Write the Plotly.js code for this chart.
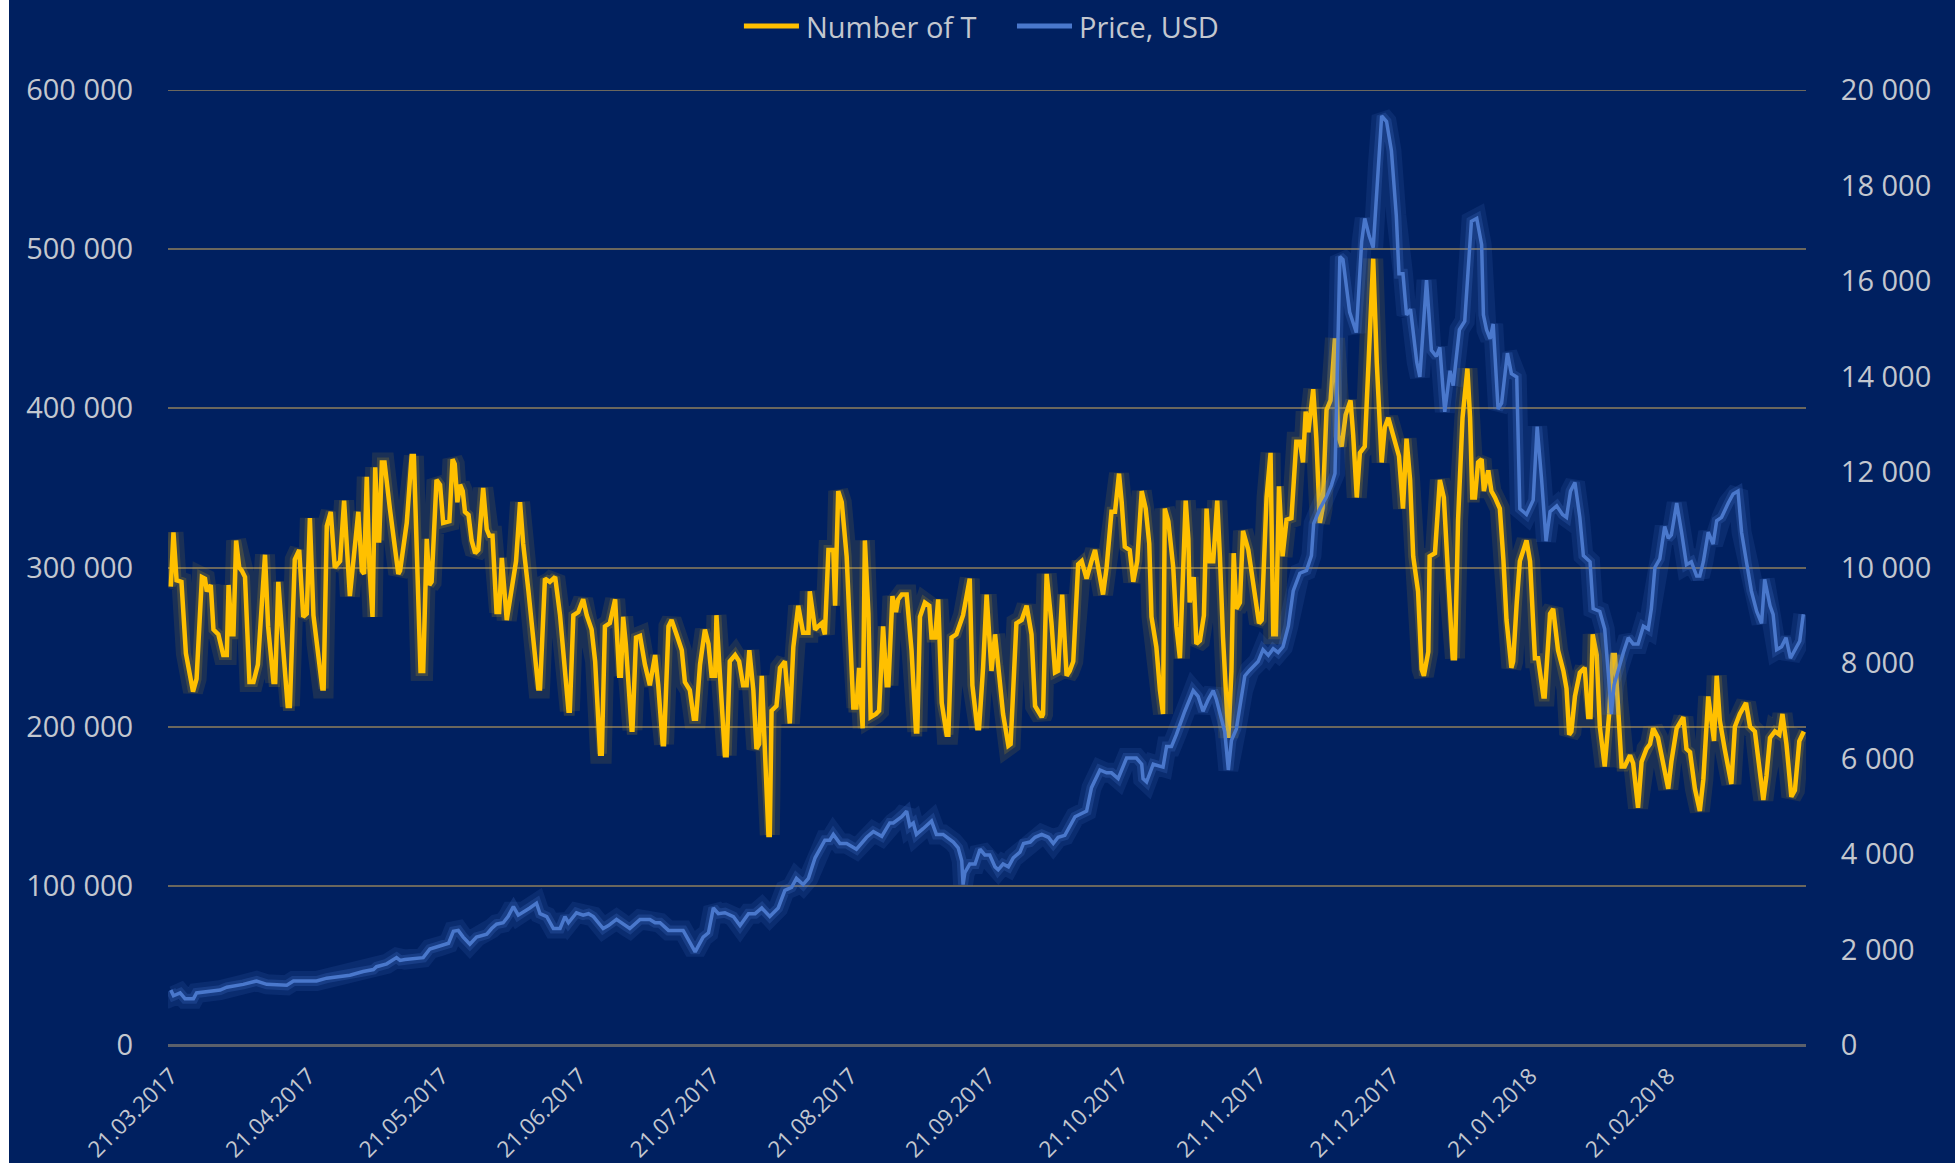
<!DOCTYPE html>
<html>
<head>
<meta charset="utf-8">
<script src="https://cdn.plot.ly/plotly-3.0.1.min.js"></script>
<style>
html,body{margin:0;padding:0;background:#ffffff;}
#chart{position:absolute;left:9px;top:0;width:1946px;height:1163px;}
</style>
</head>
<body>
<div id="chart"></div>
<script>
// ---- DATA ----
const startDate = '2017-03-21';
const seriesNames = ['Number of T', 'Price, USD'];
const monthTicks = ['2017-03-21','2017-04-21','2017-05-21','2017-06-21','2017-07-21','2017-08-21',
  '2017-09-21','2017-10-21','2017-11-21','2017-12-21','2018-01-21','2018-02-21'];

// day offsets from startDate of the visible turning points of the "Number of T" line
const txDays = [0,0.6,1.3,2.4,3.4,5.0,5.8,7.0,7.7,8.1,9.0,9.6,10.7,11.8,12.6,13.0,13.7,14.1,14.7,15.4,16.0,16.7,17.7,18.6,19.6,21.2,21.9,23.1,23.5,24.2,25.2,26.3,26.8,27.9,28.9,29.8,30.6,31.3,32.1,32.8,34.1,34.4,35.1,36.0,36.9,38.1,39.0,40.3,42.2,43.0,43.5,44.1,44.7,45.4,46.0,46.7,46.9,47.5,48.1,49.3,51.2,51.6,53.1,54.2,54.7,56.2,56.8,57.6,58.2,58.7,59.8,60.6,61.3,62.7,63.4,63.9,64.5,65.1,65.7,66.2,67.0,67.7,68.5,69.2,70.3,71.1,71.7,72.4,73.3,73.9,74.5,75.6,76.7,77.7,78.6,79.3,80.5,81.6,82.7,83.1,84.2,85.3,86.5,87.6,88.3,89.5,89.8,90.6,91.7,92.8,93.6,94.7,95.5,96.6,97.0,97.7,98.8,100.0,100.9,101.3,101.8,102.4,103.7,103.9,104.7,105.6,106.7,107.8,109.0,109.7,110.7,111.0,112.0,112.7,113.8,115.0,115.7,116.8,117.7,118.2,119.1,120.2,121.0,121.7,122.5,122.8,123.4,124.7,125.1,125.8,127.0,127.9,128.8,129.6,130.2,131.1,131.8,132.4,133.0,133.5,134.5,134.8,135.2,136.3,137.1,138.2,139.3,140.1,141.2,142.3,143.5,143.8,145.0,145.7,146.5,147.2,148.0,149.1,149.5,150.2,151.0,152.1,152.8,153.6,154.3,154.9,155.7,156.2,157.0,157.5,158.7,159.4,160.3,161.1,161.5,162.4,163.2,163.7,164.5,165.6,166.7,167.7,168.0,168.6,169.7,170.7,171.2,172.0,172.7,173.5,174.6,175.0,175.7,176.8,178.3,179.1,179.8,180.4,181.5,181.9,182.8,183.6,184.7,185.5,186.2,187.3,188.5,189.0,190.3,191.5,192.6,193.7,194.5,196.0,196.3,197.1,198.2,199.0,199.7,200.6,201.6,202.3,203.1,204.2,205.0,206.1,207.2,208.0,209.1,209.8,210.6,211.7,212.5,213.4,214.0,214.7,215.8,216.6,217.5,218.5,219.4,220.2,220.7,221.8,222.6,223.3,223.7,224.5,225.6,226.3,227.1,227.8,228.4,229.0,229.3,230.2,230.8,231.6,232.5,233.1,233.8,234.6,235.5,236.1,236.8,238.0,238.7,239.2,239.8,240.6,241.3,242.5,244.0,244.9,245.5,246.6,247.5,248.1,248.7,249.4,250.2,251.1,252.2,253.3,254.1,254.8,255.4,256.0,257.1,257.8,258.6,259.2,260.1,261.0,262.0,262.7,263.5,264.4,265.5,266.1,266.9,267.6,268.7,269.7,270.6,271.4,272.5,273.2,274.0,275.1,276.4,277.3,278.1,278.9,279.6,280.7,281.5,282.0,283.0,283.3,284.5,285.6,286.5,287.5,288.5,289.0,289.7,290.7,291.8,292.4,292.9,293.5,294.2,295.0,295.5,296.5,297.2,298.0,299.1,299.9,300.6,301.7,302.1,302.9,303.6,305.1,305.9,307.0,307.7,308.9,309.2,310.4,311.1,312.2,313.4,314.1,314.7,315.2,316.0,317.1,318.2,319.0,319.5,320.0,320.9,321.6,322.7,323.7,324.5,325.0,325.7,326.5,327.2,328.4,329.1,330.2,331.0,332.1,332.9,333.6,334.7,335.9,337.0,337.7,338.9,340.4,341.1,341.9,343.0,344.1,344.9,346.0,346.7,347.3,347.9,348.6,349.7,350.5,351.2,352.0,353.1,354.5,355.4,356.5,357.6,358.4,359.1,359.9,361.0,362.0,362.7,363.6,364.7,365.5,366.5,367.5];
const txCount = [288000,322000,292000,291000,246000,222000,230000,294000,293000,285000,289000,261000,258000,245000,245000,289000,258000,258000,317000,300000,298000,294000,228000,228000,239000,308000,263000,228000,228000,291000,252000,213000,213000,305000,311000,269000,271000,331000,270000,252000,224000,224000,326000,335000,300000,304000,342000,282000,335000,298000,296000,357000,300000,269000,363000,317000,317000,366000,366000,337000,296000,298000,328000,370000,370000,235000,235000,318000,289000,291000,355000,352000,328000,329000,368000,365000,341000,352000,348000,335000,333000,317000,309000,311000,350000,324000,320000,320000,272000,272000,306000,267000,289000,304000,341000,315000,285000,254000,224000,224000,293000,291000,294000,270000,247000,210000,210000,270000,272000,280000,270000,261000,241000,183000,183000,263000,265000,280000,232000,232000,269000,252000,198000,198000,256000,257000,239000,226000,245000,226000,189000,189000,263000,267000,258000,248000,228000,223000,205000,205000,239000,261000,252000,232000,232000,270000,241000,182000,182000,241000,245000,241000,226000,226000,248000,223000,186000,189000,232000,197000,132000,132000,210000,213000,237000,241000,202000,250000,276000,259000,259000,285000,261000,263000,265000,258000,311000,311000,276000,348000,341000,307000,263000,212000,212000,237000,199000,317000,271000,206000,208000,210000,263000,226000,226000,282000,272000,280000,283000,283000,248000,197000,197000,269000,278000,276000,256000,256000,280000,215000,195000,195000,256000,258000,270000,282000,293000,226000,199000,199000,237000,283000,235000,258000,239000,208000,188000,189000,265000,267000,276000,258000,213000,206000,208000,296000,265000,234000,235000,283000,232000,235000,241000,302000,304000,293000,304000,311000,294000,283000,300000,335000,335000,359000,341000,313000,311000,291000,304000,348000,337000,315000,269000,250000,223000,208000,337000,329000,300000,263000,243000,289000,342000,318000,278000,294000,252000,254000,270000,337000,304000,304000,342000,307000,256000,193000,235000,309000,274000,278000,323000,311000,282000,265000,267000,344000,372000,258000,258000,351000,307000,330000,331000,379000,379000,366000,398000,385000,412000,381000,328000,337000,399000,405000,444000,383000,376000,396000,405000,383000,344000,372000,376000,440000,494000,429000,366000,388000,394000,383000,370000,337000,381000,355000,307000,285000,236000,232000,247000,307000,309000,355000,344000,293000,243000,243000,330000,394000,425000,394000,344000,344000,366000,368000,348000,361000,348000,344000,337000,305000,267000,237000,241000,278000,304000,317000,304000,243000,243000,219000,219000,271000,274000,248000,235000,224000,195000,197000,219000,234000,237000,206000,206000,258000,245000,200000,175000,208000,245000,245000,217000,175000,175000,182000,177000,149000,178000,186000,189000,199000,193000,178000,161000,178000,199000,206000,186000,184000,161000,147000,167000,219000,202000,191000,232000,204000,186000,175000,164000,200000,208000,215000,200000,197000,169000,154000,169000,193000,197000,195000,208000,189000,156000,160000,191000,197000];

// day offsets and values of the "Price, USD" line
const priceDays = [0,0.6,2.1,3.2,5.1,5.8,11.1,12.6,16.3,19.3,21.6,26.1,27.6,32.8,35.1,40.3,43.3,45.6,46.3,48.6,50.8,51.6,52.7,56.8,58.3,60.6,62.5,63.6,64.7,65.8,67.3,68.8,71.1,72.2,73.3,74.8,75.9,77.1,78.2,80.8,82.3,83.1,84.6,86.1,87.6,88.7,89.5,91.3,92.8,94.0,95.1,97.3,98.5,100.3,102.6,103.3,105.6,107.8,109.0,110.1,112.0,115.3,116.5,118.0,119.8,121.0,122.1,123.2,124.7,126.6,128.1,130.0,131.5,133.0,134.8,136.7,138.2,139.7,140.8,142.3,143.5,145.0,147.2,148.3,149.1,150.6,152.1,154.3,156.6,158.1,160.0,161.8,162.6,164.5,165.6,166.3,167.1,167.8,169.3,171.2,172.3,173.8,176.1,177.2,178.0,178.3,178.7,179.8,181.0,182.1,183.2,184.3,185.5,186.2,187.3,188.5,189.6,191.1,191.9,193.4,194.5,196.0,197.5,198.6,199.7,201.2,203.5,205.0,206.1,207.2,209.1,210.6,211.7,213.2,215.1,217.3,218.5,218.8,219.6,221.1,223.3,224.1,225.2,226.3,228.2,230.1,231.2,232.3,233.5,234.6,235.3,236.5,237.2,238.0,238.7,239.8,241.3,241.7,242.8,244.7,245.8,247.0,248.1,249.2,250.3,251.5,252.6,254.1,255.6,256.7,257.2,258.6,260.1,261.2,262.0,262.3,263.1,263.8,265.3,266.8,268.0,268.7,269.7,270.6,271.7,272.5,273.6,274.7,275.8,276.4,277.3,278.1,279.0,280.4,281.1,281.9,282.6,283.7,284.8,285.6,286.7,287.9,288.6,290.0,291.2,292.7,293.9,295.0,295.4,296.1,296.9,297.6,298.7,299.5,300.8,301.7,302.9,303.6,305.1,306.6,307.5,308.5,309.5,310.4,311.9,313.2,314.1,315.0,316.0,317.1,317.9,319.4,320.1,321.6,322.7,323.5,324.2,324.8,325.7,326.9,328.0,329.1,330.2,331.4,332.5,333.2,334.0,335.1,336.2,337.0,337.7,338.9,340.0,341.1,342.2,343.4,344.1,344.9,346.0,347.1,347.9,349.0,350.5,351.6,352.7,353.5,354.6,355.7,356.9,358.0,358.7,359.9,360.6,361.4,362.5,363.5,364.5,365.9,366.6,367.4];
const priceUsd = [1150,1030,1090,970,970,1090,1150,1210,1270,1340,1270,1250,1340,1340,1400,1460,1540,1580,1640,1700,1830,1770,1790,1830,2010,2070,2130,2380,2400,2260,2110,2260,2320,2440,2530,2560,2690,2900,2720,2870,2970,2750,2690,2440,2440,2690,2560,2770,2720,2750,2690,2440,2500,2630,2480,2440,2630,2630,2560,2560,2400,2400,2200,1950,2260,2350,2870,2750,2770,2690,2500,2750,2750,2870,2690,2870,3240,3300,3490,3360,3490,3920,4290,4290,4410,4220,4220,4100,4350,4470,4370,4650,4650,4780,4900,4590,4650,4410,4530,4690,4410,4410,4250,4130,3860,3360,3610,3790,3790,4100,3980,3980,3730,3670,3790,3730,3920,4040,4220,4250,4350,4410,4350,4220,4350,4390,4780,4860,4900,5390,5760,5700,5700,5580,6010,6010,5880,5580,5510,5880,5820,6250,6250,6500,6990,7420,7300,6990,7240,7420,7240,6810,6560,5760,6380,6620,7420,7730,7850,8030,8280,8160,8300,8220,8340,8770,9510,9880,9940,10250,10920,11230,11480,11720,11970,13200,16510,16450,15350,14920,16820,17310,16940,16700,18480,19460,19340,18730,17370,16150,16150,15290,15410,14300,13990,14980,16020,14550,14420,14610,13260,14120,13810,14980,15160,17250,17310,16760,15290,14980,14790,15100,13320,13440,14490,14060,13990,11230,11110,11410,12950,11840,10550,11170,11290,11110,11050,11600,11780,11050,10250,10120,9140,9080,8710,7790,6930,7540,7850,8220,8530,8400,8400,8770,8710,9140,10000,10180,10860,10610,10680,11350,10740,10060,10120,9820,9820,10120,10740,10490,10980,11050,11350,11540,11600,10740,10120,9510,9080,8830,9750,9200,9020,8280,8340,8530,8100,8340,8460,9020];

// ---- helpers ----
function dayToDate(d) {
  const base = Date.parse(startDate + 'T00:00:00Z');
  return new Date(base + Math.round(d * 86400000)).toISOString().slice(0, 19).replace('T', ' ');
}
const txX = txDays.map(dayToDate);
const priceX = priceDays.map(dayToDate);

const YELLOW = '#FFC000';
const BLUE = '#4A78CC';
const TEXT = '#c3c7cf';
const FONT = '"Open Sans", "DejaVu Sans", sans-serif';

const traces = [
  {x: txX, y: txCount, type: 'scatter', mode: 'lines', showlegend: false, hoverinfo: 'skip',
   line: {color: 'rgba(255,192,0,0.10)', width: 20}},
  {x: txX, y: txCount, type: 'scatter', mode: 'lines', showlegend: false, hoverinfo: 'skip',
   line: {color: 'rgba(255,192,0,0.16)', width: 10}},
  {x: txX, y: txCount, type: 'scatter', mode: 'lines', name: seriesNames[0], showlegend: false,
   line: {color: YELLOW, width: 4.5}},
  {x: priceX, y: priceUsd, type: 'scatter', mode: 'lines', yaxis: 'y2', showlegend: false, hoverinfo: 'skip',
   line: {color: 'rgba(80,130,225,0.12)', width: 20}},
  {x: priceX, y: priceUsd, type: 'scatter', mode: 'lines', yaxis: 'y2', showlegend: false, hoverinfo: 'skip',
   line: {color: 'rgba(80,130,225,0.20)', width: 10}},
  {x: priceX, y: priceUsd, type: 'scatter', mode: 'lines', yaxis: 'y2', name: seriesNames[1], showlegend: false,
   line: {color: BLUE, width: 3.5}}
];

// legend drawn as paper-anchored line samples and labels
const legendY = 1.067;
const legendItems = [
  {color: YELLOW, x0: 0.3516, x1: 0.3852, tx: 0.3883, text: seriesNames[0]},
  {color: BLUE, x0: 0.5183, x1: 0.5519, tx: 0.5549, text: seriesNames[1]}
];
const shapes = legendItems.map(it => ({
  type: 'line', xref: 'paper', yref: 'paper', x0: it.x0, x1: it.x1, y0: legendY, y1: legendY,
  line: {color: it.color, width: 5}
}));
// top gridline at 600 000
shapes.push({type: 'line', xref: 'paper', yref: 'y', x0: 0, x1: 1, y0: 600000, y1: 600000,
  line: {color: '#6b675d', width: 2}, layer: 'below'});
const annotations = legendItems.map(it => ({
  xref: 'paper', yref: 'paper', x: it.tx, y: legendY, xanchor: 'left', yanchor: 'middle',
  text: it.text, showarrow: false, font: {family: FONT, size: 29, color: TEXT}
}));

const layout = {
  width: 1946, height: 1163,
  paper_bgcolor: '#002060', plot_bgcolor: '#002060',
  margin: {l: 159, r: 149, t: 90, b: 118, autoexpand: false},
  font: {family: FONT, color: TEXT},
  separators: '. ',
  hovermode: false,
  showlegend: false,
  shapes: shapes,
  annotations: annotations,
  xaxis: {type: 'date', range: [dayToDate(-0.63), dayToDate(368)],
    tickvals: monthTicks, tickformat: '%d.%m.%Y', tickangle: -45,
    tickfont: {size: 22.5, color: TEXT}, showgrid: false, zeroline: false, showline: false,
    ticks: 'outside', ticklen: 8, tickcolor: 'rgba(0,0,0,0)'},
  yaxis: {range: [0, 600000], tick0: 0, dtick: 100000, tickformat: ',d',
    gridcolor: '#6b675d', gridwidth: 2, zeroline: true, zerolinecolor: '#5b606b', zerolinewidth: 3,
    showline: false, tickfont: {size: 29, color: TEXT},
    ticks: 'outside', ticklen: 28, tickcolor: 'rgba(0,0,0,0)'},
  yaxis2: {overlaying: 'y', side: 'right', range: [0, 20000], tick0: 0, dtick: 2000, tickformat: ',d',
    showgrid: false, zeroline: false, showline: false, tickfont: {size: 29, color: TEXT},
    ticks: 'outside', ticklen: 28, tickcolor: 'rgba(0,0,0,0)'}
};

Plotly.newPlot('chart', traces, layout, {displayModeBar: false, staticPlot: true});
</script>
</body>
</html>
